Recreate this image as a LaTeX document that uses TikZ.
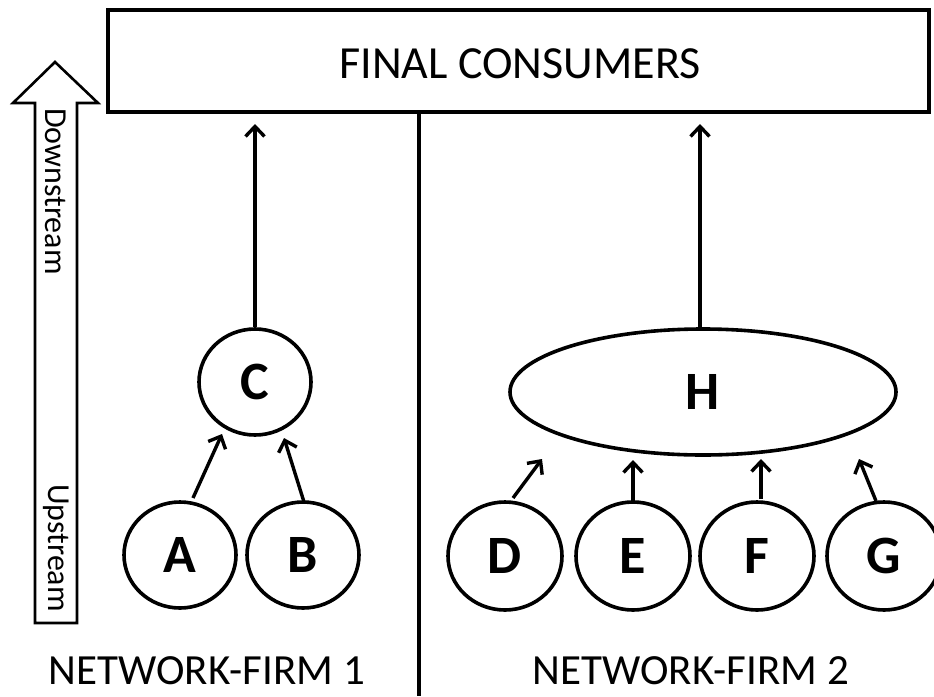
\documentclass[tikz,border=0pt]{standalone}
\usepackage{fontspec}
\setmainfont{Carlito}
\usetikzlibrary{shapes.geometric,arrows.meta}
\tikzset{
  firm/.style={draw, line width=3.6pt, ellipse, inner sep=0pt, minimum width=112pt, minimum height=106pt, font=\fontsize{54}{54}\selectfont\bfseries},
  flow/.style={line width=3.4pt, -{Straight Barb[length=10pt,width=19pt,line width=3.4pt]}},
  big/.style={font=\fontsize{43}{43}\selectfont, inner sep=0pt, anchor=base},
  side/.style={font=\fontsize{32}{32}\selectfont, inner sep=0pt, rotate=-90}
}
\begin{document}
\begin{tikzpicture}[x=1pt,y=-1pt]
\useasboundingbox (0,0) rectangle (934,696);
% top box
\node[draw, line width=4pt, minimum width=821pt, minimum height=102pt, inner sep=0pt] (box) at (518.5,61) {};
\node[big, font=\fontsize{46}{46}\selectfont] (fc) at (520,78) {FINAL CONSUMERS};
% divider
\coordinate (dtop) at (419,112);
\coordinate (dbot) at (419,696);
\draw[line width=4pt] (dtop) -- (dbot);
% side arrow
\draw[line width=2.6pt, line join=miter] (35,623) -- (35,103) -- (13,103) -- (55,62) -- (98,103) -- (77,103) -- (77,623) -- cycle;
\node[side, anchor=west] (down) at (56,108) {Downstream};
\node[side, anchor=east] (up) at (56,612) {Upstream};
% firm 1
\node[firm] (C) at (255,382) {C};
\node[firm] (A) at (180,555) {A};
\node[firm] (B) at (303,555) {B};
% firm 2
\node[firm, minimum width=386pt, minimum height=126pt] (H) at (703,392) {H};
\node[firm, minimum width=114pt, minimum height=108pt] (D) at (505,556) {D};
\node[firm, minimum width=114pt, minimum height=108pt] (E) at (633,556) {E};
\node[firm, minimum width=114pt, minimum height=108pt] (F) at (757,556) {F};
\node[firm, minimum width=114pt, minimum height=108pt] (G) at (884,556) {G};
% arrow endpoints
\coordinate (ctip) at (255,124);
\coordinate (htip) at (700,124);
\coordinate (hbot) at (700,329);
\coordinate (as) at (193,498);
\coordinate (at) at (222,434);
\coordinate (bs) at (304,502);
\coordinate (bt) at (284,438);
\coordinate (ds) at (513,498);
\coordinate (dt) at (542,459);
\coordinate (es) at (633,501);
\coordinate (et) at (633,460);
\coordinate (fs) at (761,499);
\coordinate (ft) at (761,459);
\coordinate (gs) at (876,501);
\coordinate (gt) at (859,459);
\draw[flow] (C.north) -- (ctip);
\draw[flow] (hbot) -- (htip);
\draw[flow] (as) -- (at);
\draw[flow] (bs) -- (bt);
\draw[flow] (ds) -- (dt);
\draw[flow] (es) -- (et);
\draw[flow] (fs) -- (ft);
\draw[flow] (gs) -- (gt);
% labels
\node[big] (nf1) at (207,684) {NETWORK-FIRM 1};
\node[big] (nf2) at (691,684) {NETWORK-FIRM 2};
\end{tikzpicture}
\end{document}
